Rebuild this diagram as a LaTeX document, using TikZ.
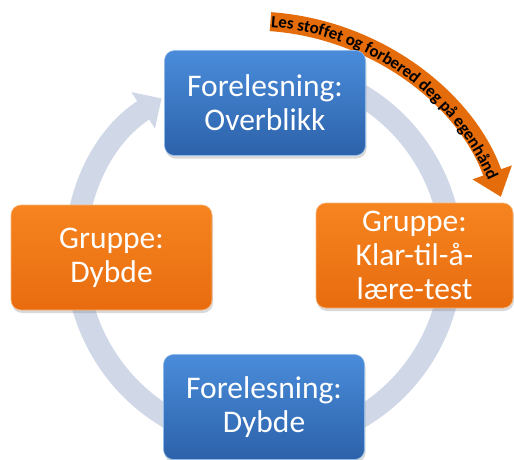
\documentclass[tikz,border=0pt]{standalone}
\usepackage{fontspec}
\setmainfont{Carlito}
\usetikzlibrary{arrows.meta,decorations.text,shadows}

\definecolor{ringgray}{RGB}{208,216,232}
\definecolor{bluetop}{RGB}{74,140,218}
\definecolor{bluebot}{RGB}{44,98,170}
\definecolor{orangetop}{RGB}{246,132,32}
\definecolor{orangebot}{RGB}{232,108,14}
\definecolor{arroworange}{RGB}{228,108,10}

\begin{document}
\begin{tikzpicture}[x=1pt, y=1pt,
    box/.style={rounded corners=10pt, minimum width=201pt, minimum height=105pt,
      inner sep=2pt, text=white, align=center, font=\fontsize{31.5}{34}\selectfont,
      drop shadow={opacity=0.3, shadow xshift=1pt, shadow yshift=-3pt}},
    lecture/.style={box, top color=bluetop, bottom color=bluebot,
      draw=bluetop!60!white, line width=0.6pt},
    group/.style={box, top color=orangetop, bottom color=orangebot,
      draw=orangetop!60!white, line width=0.6pt},
    ring/.style={ringgray, line width=22pt},
    selfstudy/.style={arroworange, line width=19pt}]
    \useasboundingbox (0,0) rectangle (514,459);
    \coordinate (c) at (264,203);   % centre of the cycle
    \coordinate (o) at (252,174);   % centre of the orange arrow
% cycle ring behind the boxes
    \draw[ring, -{Triangle[width=42pt, length=22pt]}]
        (c) ++(475:188) arc[start angle=475, end angle=123, radius=188];
% orange arrow with text
    \draw[selfstudy, -{Triangle[width=40pt, length=26pt]}]
        (o) ++(86:264) arc[start angle=86, end angle=19.5, radius=264];
    \path[decorate, decoration={text along path,
        text align={left, left indent=1pt}, raise=-5.5pt,
        text={|\bfseries\fontsize{17}{17}\selectfont|Les stoffet og forbered deg på egenhånd}}]
        (o) ++(86:264) arc[start angle=86, end angle=18, radius=264];
% boxes
    \node[lecture] (overview) at (265,356) {Forelesning:\\Overblikk};
    \node[group, minimum width=197pt] (test) at (414.5,203.5) {Gruppe:\\Klar-til-å-\\lære-test};
    \node[lecture] (depth) at (264,52) {Forelesning:\\Dybde};
    \node[group] (groupdepth) at (111.5,201.5) {Gruppe:\\Dybde};
\end{tikzpicture}
\end{document}
